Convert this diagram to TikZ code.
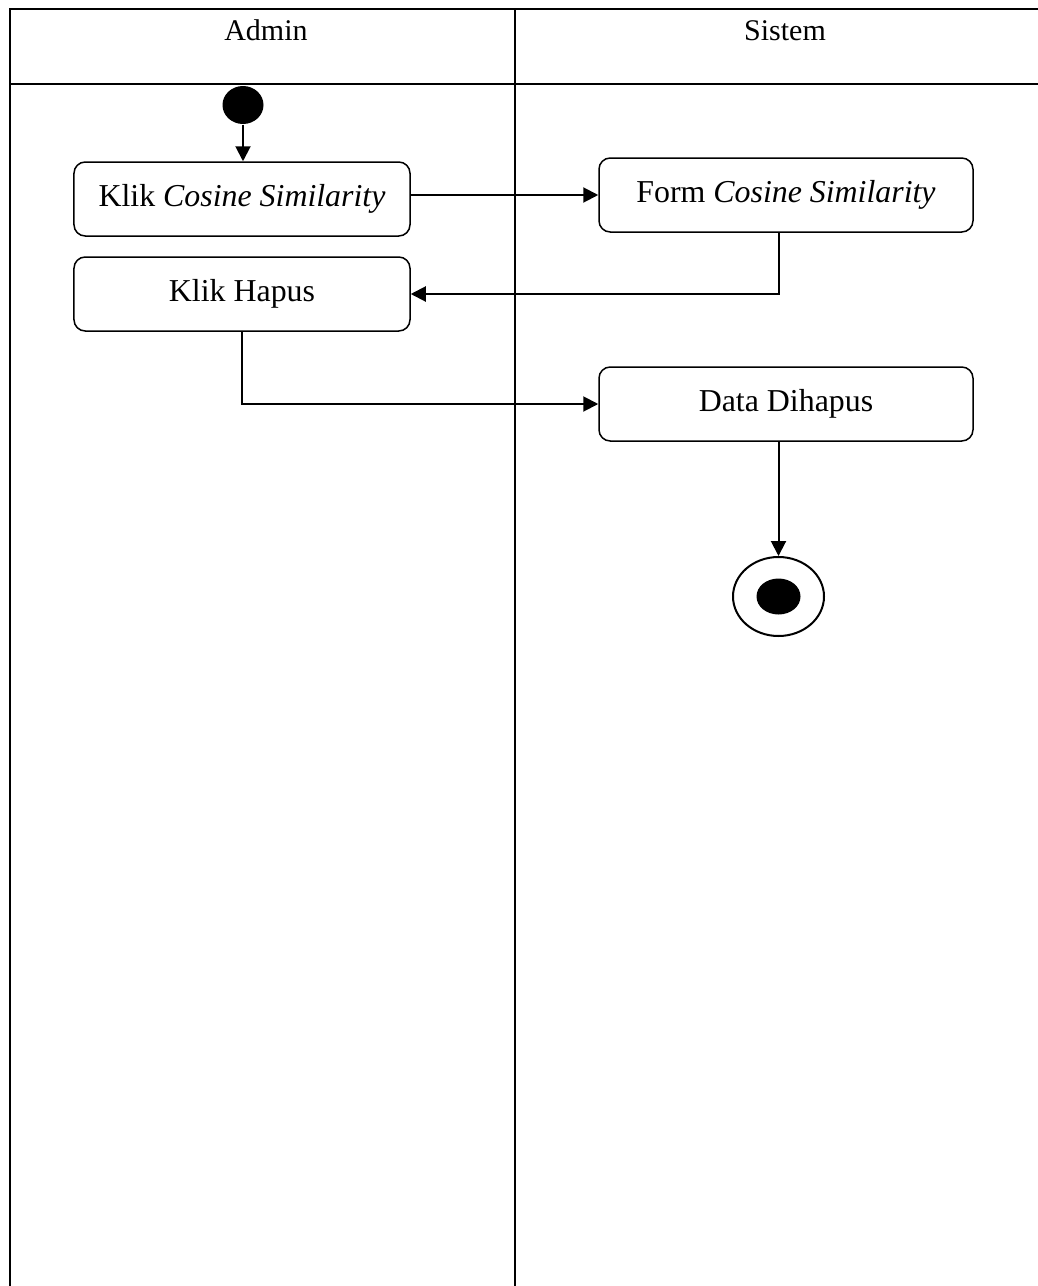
\documentclass[tikz,border=0pt]{standalone}
\usepackage{fontspec}
\setmainfont{Liberation Serif}
\usetikzlibrary{arrows.meta,shapes.geometric}
\begin{document}
\begin{tikzpicture}[x=0.4pt,y=-0.4pt,
  lane/.style={line width=0.8pt},
  actbox/.style={draw, line width=0.6pt, rounded corners=4.5pt, align=center,
    font=\fontsize{12.75}{15}\selectfont, inner sep=0pt},
  flow/.style={line width=0.8pt, -{Triangle[length=6pt,width=6pt]}},
  lbl/.style={font=\fontsize{12}{14}\selectfont, anchor=base, inner sep=0pt}]
  \useasboundingbox (0,0) rectangle (1038,1286);

  % swimlane frame
  \draw[lane] (10,1286) -- (10,9) -- (1038,9);
  \draw[lane] (10,84) -- (1038,84);
  \draw[lane] (515,9) -- (515,1286);
  \node[lbl] (hadmin) at (266,40) {Admin};
  \node[lbl] (hsistem) at (785,40) {Sistem};

  % start and end states
  \node[ellipse, fill=black, minimum width=16.4pt, minimum height=15.2pt, inner sep=0pt] (start) at (243,105) {};
  \node[ellipse, draw, line width=0.8pt, minimum width=36.4pt, minimum height=31.6pt, inner sep=0pt] (fin) at (778.5,596.5) {};
  \node[ellipse, fill=black, minimum width=17.6pt, minimum height=14.4pt, inner sep=0pt] (fincore) at (fin) {};

  % activities
  \node[actbox, minimum width=134.4pt, minimum height=29.6pt] (b1) at (242,199) {Klik \textit{Cosine Similarity}};
  \node[actbox, minimum width=134.4pt, minimum height=29.6pt] (b2) at (242,294) {Klik Hapus};
  \node[actbox, minimum width=149.6pt, minimum height=29.6pt] (b3) at (786,195) {Form \textit{Cosine Similarity}};
  \node[actbox, minimum width=149.6pt, minimum height=29.6pt] (b4) at (786,404) {Data Dihapus};

  % transitions
  \draw[flow] (start.south) -- (start.south |- b1.north);
  \draw[flow] (b1.east |- b3.west) -- (b3.west);
  \draw[flow] (b3.south -| fin) |- (b2.east);
  \draw[flow] (b2.south) |- (b4.west);
  \draw[flow] (b4.south -| fin) -- (fin.north);
\end{tikzpicture}
\end{document}
